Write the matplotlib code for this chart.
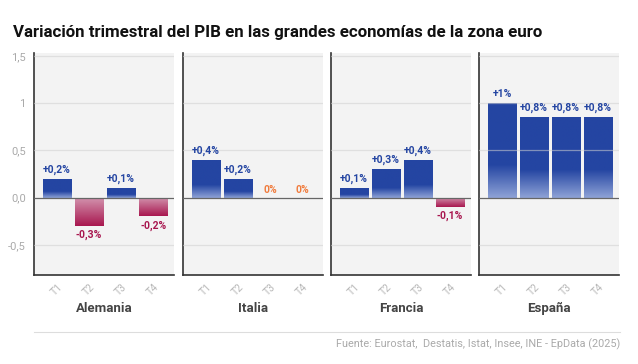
import matplotlib.pyplot as plt
import matplotlib.colors as mcolors
import numpy as np

plt.rcParams['font.family'] = ['Roboto', 'DejaVu Sans']

countries = ['Alemania', 'Italia', 'Francia', 'España']
quarters = ['T1', 'T2', 'T3', 'T4']
values = [
    [0.2, -0.3, 0.1, -0.2],
    [0.4, 0.2, 0.0, 0.0],
    [0.1, 0.3, 0.4, -0.1],
    [1.0, 0.85, 0.85, 0.85],
]
labels = [
    ['+0,2%', '-0,3%', '+0,1%', '-0,2%'],
    ['+0,4%', '+0,2%', '0%', '0%'],
    ['+0,1%', '+0,3%', '+0,4%', '-0,1%'],
    ['+1%', '+0,8%', '+0,8%', '+0,8%'],
]
yticks = [-0.5, 0.0, 0.5, 1.0, 1.5]
ytick_labels = ['-0,5', '0,0', '0,5', '1', '1,5']

BLUE = '#2445a2'
BLUE_LIGHT = '#8ea2d6'
RED = '#a8174f'
RED_LIGHT = '#cf89a6'
ORANGE = '#f07b3c'
BG = '#f3f3f3'

W, H = 638, 364
fig = plt.figure(figsize=(W / 100, H / 100), dpi=100)


def gradient(c_light, c_dark, n=100, fade=0.35, negative=False):
    a = np.array(mcolors.to_rgb(c_light))
    b = np.array(mcolors.to_rgb(c_dark))
    t = np.linspace(0, 1, n)  # row 0 = bottom of bar
    if negative:
        w = np.clip(t / 0.9, 0, 1)  # dark at bottom, light near zero
        img = b[None, :] * (1 - w[:, None]) + a[None, :] * w[:, None]
    else:
        w = np.clip(t / fade, 0, 1)  # light near zero, dark above
        img = a[None, :] * (1 - w[:, None]) + b[None, :] * w[:, None]
    return img[:, None, :]


lefts = [34, 183, 331, 479]
for i, country in enumerate(countries):
    ax = fig.add_axes([lefts[i] / W, 1 - 275 / H, 140 / W, 222 / H])
    ax.set_facecolor(BG)
    x = np.arange(4)
    bars = ax.bar(x, values[i], width=0.875, color='none', zorder=2)
    for bar, v in zip(bars, values[i]):
        if v == 0:
            continue
        x0, w = bar.get_x(), bar.get_width()
        y0, y1 = min(0, v), max(0, v)
        if v > 0:
            img = gradient(BLUE_LIGHT, BLUE)
        else:
            img = gradient(RED_LIGHT, RED, negative=True)
        im = ax.imshow(img, extent=[x0, x0 + w, y0, y1], origin='lower',
                       aspect='auto', zorder=2, interpolation='bilinear')
        im.set_clip_path(bar)
    for xi, v, lab in zip(x, values[i], labels[i]):
        if v > 0:
            ax.text(xi, v + 0.04, lab, ha='center', va='bottom', color=BLUE,
                    fontsize=7.5, fontweight='bold', zorder=4)
        elif v < 0:
            ax.text(xi, v - 0.04, lab, ha='center', va='top', color=RED,
                    fontsize=7.5, fontweight='bold', zorder=4)
        else:
            ax.text(xi, 0.03, lab, ha='center', va='bottom', color=ORANGE,
                    fontsize=7.5, fontweight='bold', zorder=4)
    ax.set_xlim(-0.72, 3.65)
    ax.set_ylim(-0.82, 1.53)
    for g in [-0.5, 0.5, 1.0, 1.5]:
        ax.axhline(g, color='#d0d0d0', alpha=0.55, lw=0.9, zorder=3)
    ax.axhline(0, color='#666666', lw=0.9, zorder=3)
    ax.set_xticks(x)
    ax.set_xticklabels(quarters, rotation=45, color='#b8b8b8', fontsize=7.5)
    ax.tick_params(axis='x', length=0, pad=5)
    ax.set_yticks(yticks)
    if i == 0:
        ax.set_yticklabels(ytick_labels, color='#aaaaaa', fontsize=8)
    else:
        ax.set_yticklabels([])
    ax.tick_params(axis='y', length=0, pad=6)
    for s in ['top', 'right']:
        ax.spines[s].set_visible(False)
    for s in ['left', 'bottom']:
        ax.spines[s].set_color('#333333')
        ax.spines[s].set_linewidth(1.2)
    ax.set_xlabel(country, fontsize=9.5, fontweight='bold', color='#444444', labelpad=3)

fig.text(13 / W, 1 - 32 / H, 'Variación trimestral del PIB en las grandes economías de la zona euro',
         fontsize=12.2, fontweight='bold', color='#111111', va='center', ha='left')
fig.add_artist(plt.Line2D([34 / W, 620 / W], [1 - 332 / H, 1 - 332 / H], color='#dddddd', lw=0.8))
fig.text(620 / W, 1 - 344 / H, 'Fuente: Eurostat,  Destatis, Istat, Insee, INE - EpData (2025)',
         fontsize=7.8, color='#aaaaaa', ha='right', va='center')

fig.savefig('out.png', dpi=100, facecolor='white')
